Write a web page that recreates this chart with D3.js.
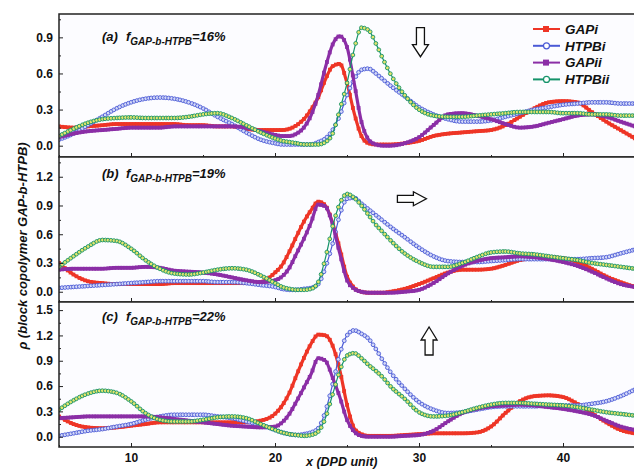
<!DOCTYPE html>
<html>
<head>
<meta charset="utf-8">
<script src="https://cdn.jsdelivr.net/npm/d3@7/dist/d3.min.js"></script>
<style>
body { margin: 0; background: #fff; }
text { font-family: "Liberation Sans", Arial, sans-serif; font-weight: bold; }
</style>
</head>
<body>
<svg id="chart" width="634" height="469"></svg>
<script>
// x positions (DPD units), shared by every series
var xs = [5,6,7,8,9,10,11,12,13,14,15,16,17,18,19,20,
  20.5,21,21.5,22,22.5,23,23.5,24,24.5,25,25.5,26,26.5,27,27.5,
  28,29,30,31,32,33,34,35,36,37,38,39,40,41,42,43,44,45];

// (a) f = 16%
var gapiA = [0.16,0.15,0.16,0.17,0.18,0.18,0.18,0.18,0.18,0.17,0.17,0.16,0.16,0.14,0.13,0.13,
  0.13,0.14,0.17,0.22,0.3,0.4,0.55,0.66,0.68,0.52,0.27,0.08,0.02,0.01,0.01,
  0.01,0.02,0.04,0.08,0.1,0.11,0.12,0.13,0.17,0.24,0.31,0.36,0.37,0.36,0.28,0.2,0.13,0.06];
var htpbiA = [0.05,0.1,0.17,0.24,0.31,0.36,0.39,0.4,0.39,0.36,0.31,0.24,0.18,0.11,0.05,0.02,
  0.01,0.01,0.01,0.01,0.01,0.03,0.06,0.13,0.25,0.42,0.55,0.63,0.64,0.6,0.55,
  0.5,0.41,0.32,0.26,0.22,0.2,0.2,0.21,0.24,0.27,0.3,0.32,0.34,0.35,0.36,0.36,0.35,0.35];
var gapiiA = [0.07,0.1,0.12,0.13,0.14,0.15,0.15,0.15,0.16,0.16,0.16,0.16,0.16,0.15,0.12,0.09,
  0.08,0.08,0.1,0.15,0.25,0.42,0.65,0.84,0.91,0.82,0.52,0.2,0.05,0.01,0.0,
  0.0,0.02,0.07,0.17,0.26,0.27,0.25,0.22,0.18,0.15,0.16,0.19,0.22,0.25,0.26,0.24,0.2,0.16];
var htpbiiA = [0.08,0.14,0.19,0.22,0.23,0.235,0.23,0.23,0.23,0.24,0.26,0.27,0.23,0.17,0.11,0.06,
  0.04,0.03,0.02,0.01,0.01,0.01,0.03,0.1,0.3,0.52,0.8,0.98,0.96,0.85,0.72,
  0.6,0.42,0.3,0.25,0.24,0.24,0.25,0.26,0.27,0.28,0.28,0.28,0.27,0.27,0.26,0.26,0.25,0.25];

// (b) f = 19%
var gapiB = [0.3,0.18,0.11,0.09,0.08,0.08,0.08,0.08,0.09,0.09,0.09,0.09,0.09,0.09,0.1,0.2,
  0.28,0.42,0.58,0.73,0.85,0.94,0.9,0.72,0.45,0.16,0.04,0.0,-0.01,-0.01,-0.01,
  0.0,0.03,0.08,0.14,0.2,0.23,0.23,0.24,0.28,0.33,0.35,0.36,0.35,0.31,0.24,0.16,0.1,0.05];
var htpbiB = [0.04,0.05,0.06,0.07,0.08,0.09,0.1,0.11,0.11,0.11,0.11,0.1,0.1,0.09,0.07,0.05,
  0.03,0.02,0.02,0.03,0.04,0.08,0.25,0.5,0.8,0.97,0.98,0.92,0.86,0.8,0.74,
  0.68,0.57,0.46,0.37,0.32,0.31,0.31,0.32,0.33,0.34,0.34,0.34,0.34,0.34,0.35,0.36,0.4,0.44];
var gapiiB = [0.23,0.24,0.24,0.24,0.25,0.25,0.26,0.25,0.22,0.21,0.2,0.18,0.15,0.12,0.1,0.12,
  0.16,0.25,0.4,0.55,0.72,0.91,0.89,0.7,0.4,0.12,0.03,0.0,-0.01,-0.01,-0.01,
  -0.01,0.0,0.02,0.09,0.19,0.27,0.32,0.35,0.36,0.37,0.36,0.34,0.31,0.27,0.21,0.14,0.08,0.05];
var htpbiiB = [0.26,0.37,0.47,0.54,0.53,0.45,0.33,0.24,0.19,0.18,0.2,0.23,0.245,0.23,0.17,0.09,
  0.05,0.03,0.02,0.02,0.03,0.1,0.35,0.68,0.92,1.02,0.98,0.9,0.8,0.7,0.62,
  0.54,0.4,0.31,0.26,0.26,0.3,0.36,0.41,0.42,0.4,0.39,0.37,0.35,0.33,0.3,0.28,0.26,0.24];

// (c) f = 22%
var gapiC = [0.24,0.15,0.11,0.1,0.11,0.13,0.15,0.17,0.17,0.17,0.17,0.17,0.17,0.17,0.19,0.27,
  0.37,0.52,0.73,0.93,1.1,1.21,1.2,1.08,0.79,0.38,0.1,0.03,0.01,0.01,0.01,
  0.01,0.02,0.03,0.04,0.04,0.04,0.05,0.12,0.28,0.42,0.48,0.49,0.47,0.39,0.28,0.17,0.08,0.04];
var htpbiC = [0.01,0.04,0.07,0.09,0.12,0.15,0.2,0.24,0.26,0.26,0.26,0.24,0.22,0.18,0.14,0.08,
  0.05,0.03,0.02,0.03,0.05,0.1,0.3,0.62,0.98,1.2,1.26,1.22,1.16,1.04,0.9,
  0.77,0.57,0.41,0.32,0.28,0.29,0.32,0.35,0.36,0.36,0.36,0.37,0.37,0.37,0.39,0.42,0.48,0.56];
var gapiiC = [0.22,0.23,0.24,0.24,0.24,0.24,0.24,0.23,0.21,0.19,0.17,0.15,0.13,0.12,0.11,0.12,
  0.17,0.27,0.42,0.58,0.74,0.93,0.9,0.7,0.47,0.2,0.06,0.01,0.0,0.0,0.0,
  0.0,0.01,0.02,0.07,0.18,0.28,0.33,0.36,0.37,0.38,0.37,0.35,0.33,0.3,0.26,0.19,0.12,0.08];
var htpbiiC = [0.32,0.43,0.51,0.545,0.52,0.42,0.28,0.2,0.18,0.18,0.2,0.23,0.24,0.22,0.15,0.08,
  0.05,0.03,0.02,0.01,0.02,0.06,0.22,0.5,0.78,0.96,0.99,0.93,0.85,0.78,0.7,
  0.6,0.45,0.29,0.24,0.25,0.29,0.34,0.38,0.4,0.4,0.39,0.38,0.37,0.35,0.32,0.29,0.27,0.25];

var seriesNames = ["GAPi", "HTPBi", "GAPii", "HTPBii"];
var panelTags = ["(a)", "(b)", "(c)"];
var fractions = ["16%", "19%", "22%"];
var yTicksA = [0, 0.3, 0.6, 0.9];
var yTicksB = [0, 0.3, 0.6, 0.9, 1.2];
var yTicksC = [0, 0.3, 0.6, 0.9, 1.2, 1.5];
var xTicks = [10, 20, 30, 40];
var xMinor = [5, 15, 25, 35, 45];

var styles = [
  {color: "#ee3526", solid: true},
  {color: "#4b5ad6", fill: "#d3d8f7", solid: false},
  {color: "#8b2ea6", solid: true},
  {color: "#15936a", fill: "#e4e46c", solid: false}
];

var panels = [
  {series: [gapiA, htpbiA, gapiiA, htpbiiA], domain: [-0.094, 1.094], top: 14, bottom: 157, ticks: yTicksA, labelY: 41, arrow: "down"},
  {series: [gapiB, htpbiB, gapiiB, htpbiiB], domain: [-0.107, 1.406], top: 157, bottom: 302, ticks: yTicksB, labelY: 178, arrow: "right"},
  {series: [gapiC, htpbiC, gapiiC, htpbiiC], domain: [-0.122, 1.596], top: 302, bottom: 447, ticks: yTicksC, labelY: 321, arrow: "up"}
];

var svg = d3.select("#chart");
var x = d3.scaleLinear().domain([5, 45]).range([59, 635]);
var markerXs = d3.range(5, 45.001, 0.2);

// pick points on a drawn path at evenly spaced x values
function sampleByX(node, targets) {
  var L = node.getTotalLength(), pts = [];
  for (var l = 0; l <= L; l += 0.5) pts.push(node.getPointAtLength(l));
  var out = [], j = 0;
  targets.forEach(function(tx) {
    while (j < pts.length - 1 && pts[j].x < tx) j++;
    out.push(pts[j]);
  });
  return out;
}

panels.forEach(function(p, pi) {
  var y = d3.scaleLinear().domain(p.domain).range([p.bottom, p.top]);
  var g = svg.append("g");

  g.append("rect").attr("x", x(5)).attr("y", p.top)
    .attr("width", x(45) - x(5)).attr("height", p.bottom - p.top)
    .attr("fill", "#fcfcff");

  g.append("clipPath").attr("id", "clip" + pi)
    .append("rect").attr("x", x(5)).attr("y", p.top)
    .attr("width", x(45) - x(5)).attr("height", p.bottom - p.top);

  var plot = g.append("g").attr("clip-path", "url(#clip" + pi + ")");
  var line = d3.line()
    .x(function(d, i) { return x(xs[i]); })
    .y(function(d) { return y(d); })
    .curve(d3.curveMonotoneX);

  p.series.forEach(function(vals, si) {
    var st = styles[si];
    var path = plot.append("path").datum(vals)
      .attr("d", line)
      .attr("fill", "none")
      .attr("stroke", st.color)
      .attr("stroke-width", st.solid ? 3.2 : 1.2);
    var pts = sampleByX(path.node(), markerXs.map(x));
    if (st.solid) {
      plot.append("g").selectAll("rect").data(pts).join("rect")
        .attr("x", function(d) { return d.x - 1.9; })
        .attr("y", function(d) { return d.y - 1.9; })
        .attr("width", 3.8).attr("height", 3.8)
        .attr("fill", st.color);
    } else {
      plot.append("g").selectAll("circle").data(pts).join("circle")
        .attr("cx", function(d) { return d.x; })
        .attr("cy", function(d) { return d.y; })
        .attr("r", 1.9)
        .attr("fill", st.fill)
        .attr("stroke", st.color)
        .attr("stroke-width", 0.9);
    }
  });

  // axes, ticks pointing inward
  var yAxis = g.append("g").attr("transform", "translate(" + x(5) + ",0)")
    .call(d3.axisLeft(y).tickValues(p.ticks).tickSize(-4).tickPadding(6).tickFormat(d3.format(".1f")));
  var minor = p.ticks.map(function(t) { return t + 0.15; })
    .filter(function(t) { return t < p.domain[1]; });
  var yMinor = g.append("g").attr("transform", "translate(" + x(5) + ",0)")
    .call(d3.axisLeft(y).tickValues(minor).tickSize(-2).tickFormat(""));
  var xAxis = g.append("g").attr("transform", "translate(0," + p.bottom + ")")
    .call(d3.axisBottom(x).tickValues(xTicks).tickSize(-4).tickPadding(6)
      .tickFormat(pi === 2 ? d3.format("d") : ""));
  var xMin = g.append("g").attr("transform", "translate(0," + p.bottom + ")")
    .call(d3.axisBottom(x).tickValues(xMinor).tickSize(-2).tickFormat(""));
  [yAxis, yMinor, xAxis, xMin].forEach(function(a) {
    a.select(".domain").remove();
    a.selectAll("line").attr("stroke", "#222");
    a.selectAll("text").attr("font-size", 12).attr("fill", "#111");
  });

  g.append("rect").attr("x", x(5)).attr("y", p.top)
    .attr("width", x(45) - x(5)).attr("height", p.bottom - p.top)
    .attr("fill", "none").attr("stroke", "#222").attr("stroke-width", 1.5);

  // panel label
  var lab = g.append("text").attr("y", p.labelY).attr("font-style", "italic")
    .attr("font-size", 13).attr("fill", "#111");
  lab.append("tspan").attr("x", 102).text(panelTags[pi]);
  lab.append("tspan").attr("x", 126).text("f");
  lab.append("tspan").attr("font-size", 10).attr("dy", 4).text("GAP-b-HTPB");
  lab.append("tspan").attr("dy", -4).text("=" + fractions[pi]);

  // hollow arrow
  var ax, ay, d;
  if (p.arrow === "down") {
    ax = x(30.1); ay = y(0.98);
    d = [[-4,0],[4,0],[4,17],[8,17],[0,29],[-8,17],[-4,17]];
  } else if (p.arrow === "right") {
    ax = x(28.5); ay = y(0.97);
    d = [[0,-3.5],[16,-3.5],[16,-7],[29,0],[16,7],[16,3.5],[0,3.5]];
  } else {
    ax = x(30.7); ay = y(1.3);
    d = [[0,0],[8,13],[4,13],[4,28],[-4,28],[-4,13],[-8,13]];
  }
  g.append("path")
    .attr("d", "M" + d.map(function(q) { return [ax + q[0], ay + q[1]].join(","); }).join("L") + "Z")
    .attr("fill", "#fff").attr("stroke", "#111").attr("stroke-width", 1.3);
});

// legend in panel (a)
var leg = svg.append("g");
seriesNames.forEach(function(name, i) {
  var st = styles[i], ly = 29 + i * 16.8;
  leg.append("line").attr("x1", 533).attr("x2", 560).attr("y1", ly).attr("y2", ly)
    .attr("stroke", st.color).attr("stroke-width", 2);
  if (st.solid) {
    leg.append("rect").attr("x", 543).attr("y", ly - 3).attr("width", 6).attr("height", 6)
      .attr("fill", st.color);
  } else {
    leg.append("circle").attr("cx", 546.5).attr("cy", ly).attr("r", 3)
      .attr("fill", "#fff").attr("stroke", st.color).attr("stroke-width", 1.2);
  }
  leg.append("text").attr("x", 565).attr("y", ly).attr("dy", "0.36em")
    .attr("font-size", 13.5).attr("font-style", "italic").attr("fill", "#111").text(name);
});

// axis titles
svg.append("text").attr("transform", "translate(27,246) rotate(-90)")
  .attr("text-anchor", "middle").attr("font-size", 13).attr("font-style", "italic")
  .attr("fill", "#111").text("\u03c1 (block copolymer GAP-b-HTPB)");
svg.append("text").attr("x", 306).attr("y", 466).attr("font-size", 12.5)
  .attr("font-style", "italic").attr("fill", "#111").text("x (DPD unit)");
</script>
</body>
</html>
